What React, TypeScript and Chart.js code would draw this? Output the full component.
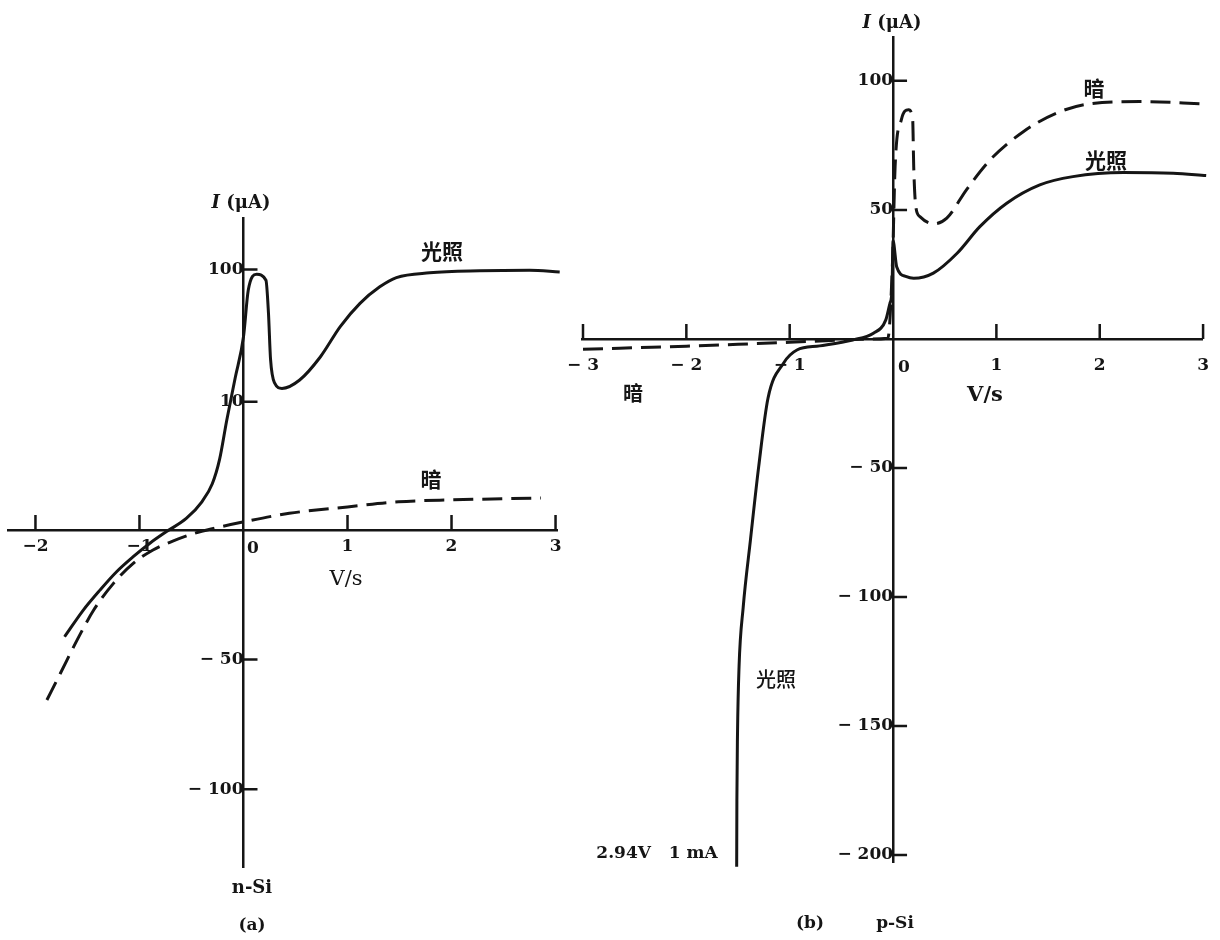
import React, { useEffect, useRef } from 'react';
import { Chart, registerables } from 'chart.js';

Chart.register(...registerables);

const INK = '#151515';
const SERIF = '"DejaVu Serif", "Liberation Serif", serif';
const CJK = '"Noto Sans CJK SC", "Noto Sans", sans-serif';

// ---------- Panel (a): n-Si ----------
const aLightV = [-1.72, -1.54, -1.38, -1.22, -1.06, -0.9, -0.74, -0.55, -0.4, -0.3, -0.23, -0.16, -0.08, 0.0, 0.046, 0.127, 0.216, 0.24, 0.26, 0.3, 0.37, 0.54, 0.74, 0.93, 1.12, 1.31, 1.47, 1.79, 2.27, 2.75, 3.04];
const aLightI = [-41.2, -30.9, -23.2, -16.1, -10.3, -5.1, -0.6, 0.9, 2.2, 3.6, 5.5, 8.6, 15.1, 31, 70, 92, 83, 47, 21, 13.8, 12.6, 14.6, 21.9, 37, 55.5, 74, 87, 94.5, 98, 99, 96];
const aDarkV = [-1.89, -1.76, -1.6, -1.44, -1.25, -1.06, -0.87, -0.68, -0.48, -0.3, 0.0, 0.44, 1.0, 1.49, 2.02, 2.86];
const aDarkI = [-65.6, -55.3, -42.5, -30.9, -20.6, -12.9, -7.7, -4.3, -1.4, 0.1, 0.63, 1.3, 1.8, 2.2, 2.35, 2.5];
const aXTicks = [-2, -1, 0, 1, 2, 3];
const aXLabels = ['−2', '−1', '', '1', '2', '3'];
const aYTicks = [100, 10, -50, -100];
const aYLabels = ['100', '10', '− 50', '− 100'];

// ---------- Panel (b): p-Si ----------
const bLightV = [-1.513, -1.511, -1.505, -1.49, -1.45, -1.38, -1.3, -1.21, -1.06, -0.93, -0.71, -0.39, -0.19, -0.07, -0.03, -0.01, 0.0, 0.035, 0.13, 0.2, 0.39, 0.62, 0.84, 1.1, 1.42, 1.74, 2.23, 2.71, 3.03];
const bLightI = [-204.5, -179, -153, -127, -104, -78, -49.5, -23, -9.4, -4.3, -2.7, -0.4, 2.2, 7.4, 13.8, 19, 38, 28, 24.1, 23.5, 25.5, 33.2, 43.5, 52.6, 59.7, 62.9, 64.5, 64.2, 63.3];
const bDarkV = [-3.0, -2.5, -2.0, -1.5, -1.0, -0.6, -0.3, -0.05, -0.005, 0.02, 0.08, 0.15, 0.19, 0.2, 0.22, 0.26, 0.39, 0.52, 0.71, 0.94, 1.26, 1.58, 1.9, 2.39, 3.01];
const bDarkI = [-4.0, -3.4, -2.8, -2.1, -1.3, -0.6, -0.1, 0.3, 30, 66.8, 84.9, 88.8, 85, 66.8, 51.3, 47.4, 44.6, 46.8, 57.8, 69.4, 80.3, 87.5, 91.1, 92, 91.1];
const bXTicks = [-3, -2, -1, 0, 1, 2, 3];
const bXLabels = ['− 3', '− 2', '− 1', '', '1', '2', '3'];
const bYTicks = [100, 50, -50, -100, -150, -200];
const bYLabels = ['100', '50', '− 50', '− 100', '− 150', '− 200'];

// panel (a) current axis: 0–10 linear, 10–100 logarithmic, negative linear
const aAxis = (i: number) =>
  i >= 0 ? (i <= 10 ? i / 10 : 1 + 1.03 * Math.log10(i / 10)) : i * 0.0202;
const bAxis = (i: number) => i;

const tickMarks = {
  id: 'tickMarks',
  afterDatasetsDraw(chart: any, _args: any, opts: any) {
    const { ctx } = chart;
    const x = chart.scales.x;
    const y = chart.scales.y;
    const y0 = y.getPixelForValue(0);
    const x0 = x.getPixelForValue(0);
    ctx.save();
    ctx.strokeStyle = INK;
    ctx.lineWidth = 2.5;
    ctx.beginPath();
    x.ticks.forEach((t: any) => {
      if (t.value === 0) return;
      const px = x.getPixelForValue(t.value);
      ctx.moveTo(px, y0);
      ctx.lineTo(px, y0 - opts.xLen);
    });
    y.ticks.forEach((t: any) => {
      const py = y.getPixelForValue(t.value);
      ctx.moveTo(x0, py);
      ctx.lineTo(x0 + opts.yLen, py);
    });
    ctx.stroke();
    ctx.restore();
  },
};

function series(V: number[], I: number[], T: (i: number) => number, dashed: boolean) {
  return {
    data: V.map((v, k) => ({ x: v, y: T(I[k]) })),
    borderColor: INK,
    borderWidth: 3,
    pointRadius: 0,
    fill: false,
    cubicInterpolationMode: 'monotone',
    borderDash: dashed ? [20, 9] : [],
    clip: false,
  };
}

function buildChart(canvas: HTMLCanvasElement, cfg: any) {
  const tickFont = { family: SERIF, size: 17, weight: 'bold' };
  return new Chart(canvas, {
    type: 'line',
    data: { datasets: cfg.datasets },
    options: {
      responsive: false,
      animation: false,
      events: [],
      layout: { padding: cfg.padding },
      plugins: {
        legend: { display: false },
        tooltip: { enabled: false },
        tickMarks: { xLen: 15, yLen: 14 },
      },
      scales: {
        x: {
          type: 'linear',
          min: cfg.xMin,
          max: cfg.xMax,
          position: { y: 0 },
          grid: { display: false, drawTicks: false },
          border: { display: true, color: INK, width: 2.5 },
          afterBuildTicks: (s: any) => {
            s.ticks = cfg.xTicks.map((v: number) => ({ value: v }));
          },
          ticks: {
            autoSkip: false,
            maxRotation: 0,
            padding: cfg.xPad,
            color: INK,
            font: tickFont,
            callback: (_v: any, i: number) => cfg.xLabels[i],
          },
        },
        y: {
          type: 'linear',
          min: cfg.yMin,
          max: cfg.yMax,
          position: { x: 0 },
          grid: { display: false, drawTicks: false },
          border: { display: true, color: INK, width: 2.5 },
          afterBuildTicks: (s: any) => {
            s.ticks = cfg.yTicks.map((v: number) => ({ value: cfg.T(v) }));
          },
          ticks: {
            autoSkip: false,
            padding: cfg.yPad,
            color: INK,
            font: tickFont,
            callback: (_v: any, i: number) => cfg.yLabels[i],
          },
        },
      },
    },
    plugins: [tickMarks],
  } as any);
}

const Txt = ({ x, y, children, font, size, weight = 'bold', italic = false }: any) => (
  <div
    style={{
      position: 'absolute',
      left: x,
      top: y,
      transform: 'translate(-50%, -50%)',
      fontFamily: font,
      fontSize: size,
      fontWeight: weight,
      fontStyle: italic ? 'italic' : 'normal',
      color: INK,
      whiteSpace: 'pre',
      lineHeight: 1,
    }}
  >
    {children}
  </div>
);

export default function App() {
  const refA = useRef<HTMLCanvasElement>(null);
  const refB = useRef<HTMLCanvasElement>(null);

  useEffect(() => {
    const ca = buildChart(refA.current!, {
      datasets: [series(aLightV, aLightI, aAxis, false), series(aDarkV, aDarkI, aAxis, true)],
      padding: { left: 8, right: 23, top: 218, bottom: 73 },
      xMin: -2.264,
      xMax: 3.014,
      yMin: -2.627,
      yMax: 2.432,
      xTicks: aXTicks,
      xLabels: aXLabels,
      yTicks: aYTicks,
      yLabels: aYLabels,
      T: aAxis,
      xPad: 6,
      yPad: 5,
    });
    const cb = buildChart(refB.current!, {
      datasets: [series(bLightV, bLightI, bAxis, false), series(bDarkV, bDarkI, bAxis, true)],
      padding: { left: 12, right: 17, top: 37, bottom: 78 },
      xMin: -3.005,
      xMax: 2.995,
      yMin: -202.7,
      yMax: 117,
      xTicks: bXTicks,
      xLabels: bXLabels,
      yTicks: bYTicks,
      yLabels: bYLabels,
      T: bAxis,
      xPad: 16,
      yPad: 4,
    });
    return () => {
      ca.destroy();
      cb.destroy();
    };
  }, []);

  return (
    <div style={{ position: 'fixed', left: 0, top: 0, width: 1220, height: 940, background: '#fff', overflow: 'hidden' }}>
      <canvas ref={refA} width={580} height={940} style={{ position: 'absolute', left: 0, top: 0, display: 'block' }} />
      <canvas ref={refB} width={674} height={940} style={{ position: 'absolute', left: 551, top: 0, display: 'block' }} />

      {/* panel (a) */}
      <Txt x={241} y={202} font={SERIF} size={18}>
        <span style={{ fontStyle: 'italic' }}>I</span> (μA)
      </Txt>
      <Txt x={442} y={250} font={CJK} size={21}>光照</Txt>
      <Txt x={431} y={478} font={CJK} size={21}>暗</Txt>
      <Txt x={253} y={547} font={SERIF} size={17}>0</Txt>
      <Txt x={346} y={578} font={SERIF} size={21} weight="normal">V/s</Txt>
      <Txt x={252} y={887} font={SERIF} size={18}>n-Si</Txt>
      <Txt x={252} y={924} font={SERIF} size={17}>(a)</Txt>

      {/* panel (b) */}
      <Txt x={892} y={22} font={SERIF} size={18}>
        <span style={{ fontStyle: 'italic' }}>I</span> (μA)
      </Txt>
      <Txt x={1094} y={87} font={CJK} size={21}>暗</Txt>
      <Txt x={1106} y={159} font={CJK} size={21}>光照</Txt>
      <Txt x={904} y={366} font={SERIF} size={17}>0</Txt>
      <Txt x={985} y={393} font={SERIF} size={21}>V/s</Txt>
      <Txt x={633} y={393} font={CJK} size={20}>暗</Txt>
      <Txt x={776} y={679} font={CJK} size={20} weight={500}>光照</Txt>
      <Txt x={657} y={852} font={SERIF} size={17}>{'2.94V   1 mA'}</Txt>
      <Txt x={810} y={922} font={SERIF} size={17}>(b)</Txt>
      <Txt x={895} y={922} font={SERIF} size={17}>p-Si</Txt>
    </div>
  );
}
